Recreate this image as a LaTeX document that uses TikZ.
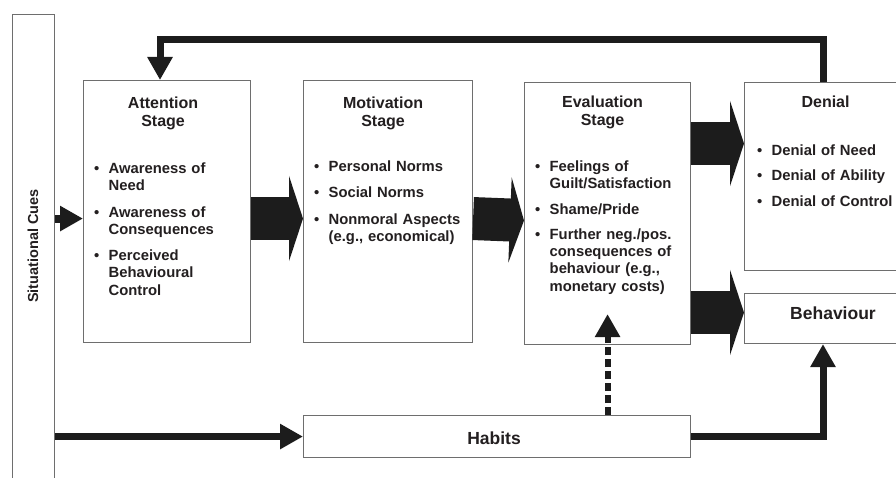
\documentclass[tikz,border=0pt]{standalone}
\usepackage{fontspec}
\setmainfont{Liberation Sans}
\usetikzlibrary{arrows.meta,positioning}
\definecolor{ink}{HTML}{231F20}
\definecolor{frame}{HTML}{6E6E6E}
\definecolor{pathblk}{HTML}{1C1C1C}
\newcommand{\bitem}[1]{\par\noindent\hangindent=14.5pt\hangafter=1\makebox[14.5pt][l]{\textbullet}#1\par}

\begin{document}
\begin{tikzpicture}[x=1pt,y=-1pt,
  stagebox/.style={draw=frame,line width=1.1pt,fill=white,inner sep=0pt,anchor=north west,text=ink},
  title/.style={align=center,inner sep=0pt,anchor=north,text=ink,font=\fontsize{16}{18}\selectfont\bfseries},
  blist/.style={anchor=north west,inner sep=0pt,text width=200pt,text=ink,font=\fontsize{14.8}{17.3}\selectfont\bfseries},
  fatarrow/.style={pathblk,line width=43pt,-{Triangle[length=14pt,width=85pt]}},
  heavy/.style={pathblk,line width=7pt,miter limit=10,-{Triangle[length=23pt,width=24pt]}}]
  \useasboundingbox (0,0) rectangle (896,478);

  % boxes
  \node[stagebox,minimum width=42pt,minimum height=480pt] (cues) at (12,14) {};
  \node[rotate=90,text=ink,font=\fontsize{14.5}{17}\selectfont\bfseries] (cuestxt) at (33,246) {Situational Cues};
  \node[stagebox,minimum width=167pt,minimum height=262pt] (att) at (83,80) {};
  \node[stagebox,minimum width=169pt,minimum height=262pt] (mot) at (303,80) {};
  \node[stagebox,minimum width=166pt,minimum height=262pt] (eva) at (524,82) {};
  \node[stagebox,minimum width=178pt,minimum height=188pt] (den) at (744,82) {};
  \node[stagebox,minimum width=178pt,minimum height=50pt] (beh) at (744,293) {};
  \node[stagebox,minimum width=387pt,minimum height=42pt] (hab) at (303,415) {};
  \node[text=ink,font=\fontsize{17.5}{20}\selectfont\bfseries] (behtxt) at (833,313) {Behaviour};
  \node[text=ink,font=\fontsize{17.5}{20}\selectfont\bfseries] (habtxt) at (494,438) {Habits};

  % titles
  \node[title] (atttitle) at ([xshift=-4pt,yshift=-17pt]att.north) {Attention\\Stage};
  \node[title] (mottitle) at ([xshift=-5pt,yshift=-17pt]mot.north) {Motivation\\Stage};
  \node[title] (evatitle) at ([xshift=-5pt,yshift=-14pt]eva.north) {Evaluation\\Stage};
  \node[title] (dentitle) at ([xshift=-8pt,yshift=-14pt]den.north) {Denial};

  % lists
  \node[blist] (attlist) at (94,156) {%
    \bitem{Awareness of\newline Need}\vspace{9pt}
    \bitem{Awareness of\newline Consequences}\vspace{9pt}
    \bitem{Perceived\newline Behavioural\newline Control}};
  \node[blist] (motlist) at (314,154) {%
    \bitem{Personal Norms}\vspace{9pt}
    \bitem{Social Norms}\vspace{9pt}
    \bitem{Nonmoral Aspects\newline (e.g., economical)}};
  \node[blist] (evalist) at (535,154) {%
    \bitem{Feelings of\newline Guilt/Satisfaction}\vspace{8pt}
    \bitem{Shame/Pride}\vspace{8pt}
    \bitem{Further neg./pos.\newline consequences of\newline behaviour (e.g.,\newline monetary costs)}};
  \node[blist] (denlist) at (757,138) {%
    \bitem{Denial of Need}\vspace{8pt}
    \bitem{Denial of Ability}\vspace{8pt}
    \bitem{Denial of Control}};

  % block arrows
  \draw[fatarrow] ([yshift=-7pt]att.east) -- ([yshift=-7pt]mot.west);
  \draw[fatarrow] ([yshift=-7pt]mot.east) -- ([yshift=-7pt]eva.west);
  \draw[fatarrow] ([yshift=70pt]eva.east) coordinate (evaup) -- (evaup -| den.west);
  \draw[fatarrow] ([yshift=-99pt]eva.east) coordinate (evadown) -- (evadown -| beh.west);

  % other connectors
  \path ([yshift=-7pt]att.west) coordinate (attin);
  \draw[heavy,line width=8pt] (cues.east |- attin) -- (attin);
  \draw[heavy] ([xshift=79pt]den.north west) |- ([xshift=77pt,yshift=40pt]att.north west) -- ([xshift=77pt]att.north west);
  \draw[heavy] (cues.east |- hab.west) -- (hab.west);
  \draw[heavy] (hab.east) -| ([xshift=79pt]beh.south west);
  \draw[heavy,line width=6pt,dash pattern=on 8pt off 4pt] (hab.north -| eva.south) -- ([yshift=31pt]eva.south);
\end{tikzpicture}
\end{document}
